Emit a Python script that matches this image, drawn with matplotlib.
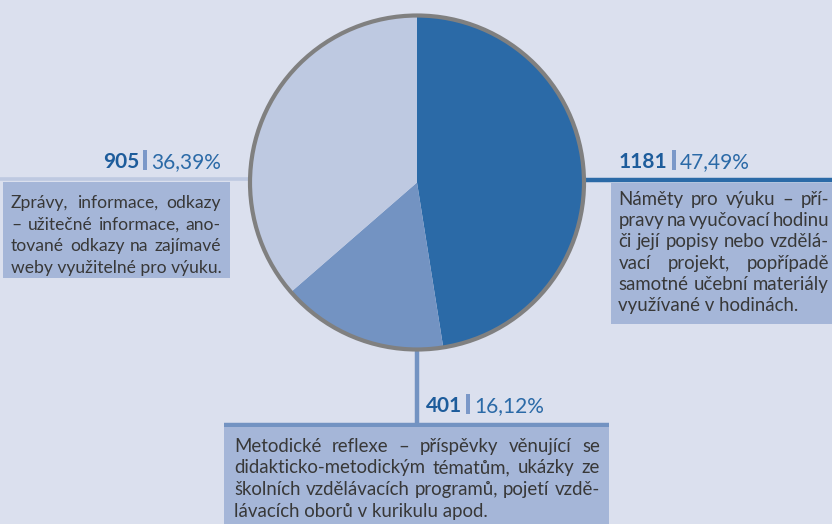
import matplotlib
matplotlib.use('Agg')
import matplotlib.pyplot as plt
from matplotlib.patches import Rectangle, Circle
from matplotlib import font_manager

# ---- data ----
categories = ['Náměty pro výuku', 'Metodické reflexe', 'Zprávy, informace, odkazy']
counts = [1181, 401, 905]
count_labels = ['1181', '401', '905']
percent_labels = ['47,49%', '16,12%', '36,39%']
desc_right = ["Náměty pro výuku – pří-", "pravy na vyučovací hodinu",
              "či její popisy nebo vzdělá-", "vací projekt, popřípadě",
              "samotné učební materiály", "využívané v hodinách."]
desc_bottom = ["Metodické reflexe – příspěvky věnující se",
               "didakticko-metodickým tématům, ukázky ze",
               "školních vzdělávacích programů, pojetí vzdě-",
               "lávacích oborů v kurikulu apod."]
desc_left = ["Zprávy, informace, odkazy", "– užitečné informace, ano-",
             "tované odkazy na zajímavé", "weby využitelné pro výuku."]

# ---- style ----
BG = '#dbe0ee'
BOX = '#a5b6d8'
DARK = '#2b6aa7'
MED = '#7393c2'
LIGHT = '#bec9e1'
EDGE = '#808080'
TXT = '#383838'
NUM = '#1d5c9b'
PCT = '#2b6aa7'
BAR = '#7b98c8'

avail = {f.name for f in font_manager.fontManager.ttflist}
FONT = 'DejaVu Sans'
for cand in ['Lato', 'Roboto', 'DejaVu Sans']:
    if cand in avail:
        FONT = cand
        break
plt.rcParams['font.family'] = [FONT, 'DejaVu Sans']

W, H = 832, 524
fig = plt.figure(figsize=(W / 100, H / 100), dpi=100, facecolor=BG)
ax = fig.add_axes([0, 0, 1, 1])
ax.set_facecolor(BG)

cx, cy, R = 417, 182.5, 167
ax.pie(counts, colors=[DARK, MED, LIGHT], startangle=-90, counterclock=True,
       center=(cx, cy), radius=R, wedgeprops=dict(linewidth=0))
ax.add_patch(Circle((cx, cy), R, fill=False, edgecolor=EDGE, linewidth=3.0, zorder=5))
ax.set_xlim(0, W)
ax.set_ylim(H, 0)
ax.set_aspect('auto')
ax.axis('off')

# connector lines
ax.plot([0, cx - R], [179, 179], color=LIGHT, lw=2.6, solid_capstyle='butt', zorder=1)
ax.plot([cx + R, W], [180, 180], color=DARK, lw=3.2, solid_capstyle='butt', zorder=1)
ax.plot([cx, cx], [cy + R, 425], color=MED, lw=3.2, solid_capstyle='butt', zorder=1)
ax.plot([224, 609], [425, 425], color=MED, lw=3.2, solid_capstyle='butt', zorder=1)

# boxes
ax.add_patch(Rectangle((3, 182), 227, 96, facecolor=BOX, edgecolor='none', zorder=2))
ax.add_patch(Rectangle((611, 182.5), W - 611, 141, facecolor=BOX, edgecolor='none', zorder=2))
ax.add_patch(Rectangle((224, 427), 385, H - 427, facecolor=BOX, edgecolor='none', zorder=2))

renderer = fig.canvas.get_renderer()

def width_of(t):
    return t.get_window_extent(renderer).width

def draw_line(text, x0, x1, y, justify, fs):
    kw = dict(fontsize=fs, color=TXT, zorder=3, ha='left', va='baseline')
    if not justify:
        ax.text(x0, y, text, **kw)
        return
    words = text.split(' ')
    ts = [ax.text(0, y, w, **kw) for w in words]
    ws = [width_of(t) for t in ts]
    gap = (x1 - x0 - sum(ws)) / max(len(words) - 1, 1)
    x = x0
    for t, w in zip(ts, ws):
        t.set_x(x)
        x += w + gap

def draw_block(lines, x0, x1, y0, step, fs):
    for i, ln in enumerate(lines):
        draw_line(ln, x0, x1, y0 + i * step, i < len(lines) - 1, fs)

draw_block(desc_left, 11, 221, 208, 21.6, 12.6)
draw_block(desc_right, 618.5, 829, 204.5, 21.4, 13.4)
draw_block(desc_bottom, 234, 600, 451.7, 21.7, 13.4)

# value labels
LBL = 15

def label_left_anchor(x, y, num, pct):
    t1 = ax.text(x, y, num, ha='left', va='baseline', fontsize=LBL,
                 fontweight='bold', color=NUM, zorder=3)
    w1 = width_of(t1)
    bx = x + w1 + 4
    ax.add_patch(Rectangle((bx, y - 18), 4, 20, facecolor=BAR, edgecolor='none', zorder=3))
    ax.text(bx + 8, y, pct, ha='left', va='baseline', fontsize=LBL, color=PCT, zorder=3)

def label_right_anchor(x, y, num, pct):
    t2 = ax.text(x, y, pct, ha='right', va='baseline', fontsize=LBL, color=PCT, zorder=3)
    w2 = width_of(t2)
    bx = x - w2 - 8
    ax.add_patch(Rectangle((bx, y - 18), 4, 20, facecolor=BAR, edgecolor='none', zorder=3))
    ax.text(bx - 4, y, num, ha='right', va='baseline', fontsize=LBL,
            fontweight='bold', color=NUM, zorder=3)

label_left_anchor(619, 168.3, count_labels[0], percent_labels[0])
label_left_anchor(426, 411.7, count_labels[1], percent_labels[1])
label_right_anchor(221, 168.3, count_labels[2], percent_labels[2])

fig.savefig('out.png', dpi=100, facecolor=BG)
